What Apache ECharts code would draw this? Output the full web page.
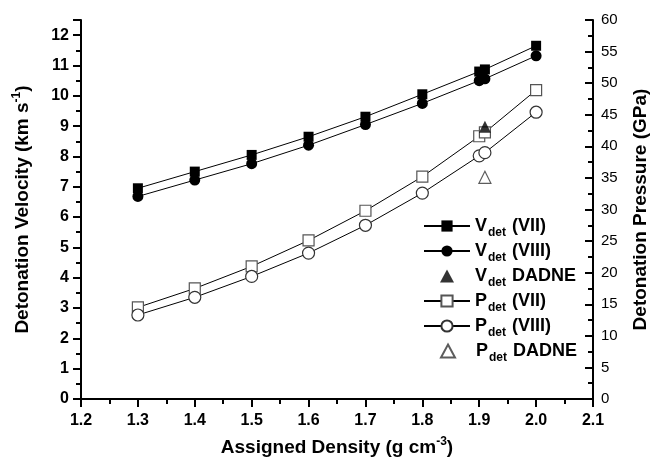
<!DOCTYPE html>
<html><head><meta charset="utf-8">
<script src="https://cdn.jsdelivr.net/npm/echarts@6/dist/echarts.min.js"></script>
<style>html,body{margin:0;padding:0;background:#fff}#c{width:654px;height:457px}</style>
</head><body><div id="c"></div>
<script>
var density = [1.3, 1.4, 1.5, 1.6, 1.7, 1.8, 1.9, 1.91, 2.0];
var vVII  = [6.95, 7.50, 8.05, 8.65, 9.31, 10.05, 10.80, 10.87, 11.65];
var vVIII = [6.68, 7.22, 7.76, 8.37, 9.05, 9.75, 10.50, 10.56, 11.32];
var pVII  = [14.5, 17.5, 21.0, 25.1, 29.8, 35.2, 41.6, 42.2, 48.9];
var pVIII = [13.3, 16.1, 19.4, 23.1, 27.5, 32.6, 38.5, 39.0, 45.4];
var dadneDensity = [1.91];
var vDADNE = [8.98];
var pDADNE = [35.1];
var legendNames = ['V (VII)', 'V (VIII)', 'V DADNE', 'P (VII)', 'P (VIII)', 'P DADNE'];

function pairs(xs, ys){ return xs.map(function(x,i){ return [x, ys[i]]; }); }
var FONT = 'Arial, "Liberation Sans", sans-serif';
var chart = echarts.init(document.getElementById('c'));
var lineStyle = {color:'#000', width:1};

var legendRich = {
  b:{fontFamily:FONT, fontSize:18, fontWeight:'bold', color:'#000'},
  bp:{fontFamily:FONT, fontSize:18, fontWeight:'bold', color:'#000', padding:[0,0,0,16]},
  s:{fontFamily:FONT, fontSize:12, fontWeight:'bold', color:'#000', padding:[13,1,0,1]}
};
function legendFor(i, isTri){
  var rowCenter = 225 + i*25;
  return {
    orient:'vertical', left: isTri ? 440 : 423, top: rowCenter - 8, padding:0,
    itemWidth: isTri ? 14 : 46, itemHeight: isTri ? 13 : 14, itemGap:0,
    data:[legendNames[i]],
    textStyle:{fontFamily:FONT, fontSize:18, fontWeight:'bold', color:'#000', rich:legendRich},
    formatter:function(n){
      var p = n.split(' ');
      return '{'+(isTri?'bp':'b')+'|'+p[0]+'}{s|det}{b| '+p.slice(1).join(' ')+'}';
    }
  };
}

chart.setOption({
  animation:false,
  grid:{left:81, right:61, top:20, bottom:58, containLabel:false, outerBoundsMode:'none'},
  legend:[legendFor(0,false), legendFor(1,false), legendFor(2,true),
          legendFor(3,false), legendFor(4,false), legendFor(5,true)],
  xAxis:{
    type:'value', min:1.2, max:2.1, interval:0.1,
    axisLine:{lineStyle:{color:'#000', width:2}},
    axisTick:{inside:false, length:8, lineStyle:{color:'#000', width:2}},
    minorTick:{show:true, splitNumber:2, length:5, lineStyle:{color:'#000', width:2}},
    splitLine:{show:false},
    axisLabel:{fontFamily:FONT, fontSize:16, fontWeight:'bold', color:'#000', margin:14,
      formatter:function(v){return v.toFixed(1);}},
    name:'Assigned Density (g cm{sup|-3})', nameLocation:'middle', nameGap:37,
    nameTextStyle:{fontFamily:FONT, fontSize:19, fontWeight:'bold', color:'#000',
      rich:{sup:{fontFamily:FONT, fontSize:12, fontWeight:'bold', color:'#000', padding:[0,0,12,0]}}}
  },
  yAxis:[{
    type:'value', min:0, max:12.5, interval:1, position:'left',
    axisLine:{show:true, lineStyle:{color:'#000', width:2}},
    axisTick:{inside:false, length:8, lineStyle:{color:'#000', width:2}},
    minorTick:{show:true, splitNumber:2, length:5, lineStyle:{color:'#000', width:2}},
    splitLine:{show:false},
    axisLabel:{fontFamily:FONT, fontSize:16, fontWeight:'bold', color:'#000', margin:12, showMaxLabel:false},
    name:'Detonation Velocity (km s{sup|-1})', nameLocation:'middle', nameGap:46,
    nameTextStyle:{fontFamily:FONT, fontSize:19, fontWeight:'bold', color:'#000',
      rich:{sup:{fontFamily:FONT, fontSize:12, fontWeight:'bold', color:'#000', padding:[0,0,12,0]}}}
  },{
    type:'value', min:0, max:60, interval:5, position:'right',
    axisLine:{show:true, lineStyle:{color:'#000', width:2}},
    axisTick:{inside:true, length:8, lineStyle:{color:'#000', width:2}},
    minorTick:{show:true, splitNumber:2, length:5, lineStyle:{color:'#000', width:2}},
    splitLine:{show:false},
    axisLabel:{fontFamily:FONT, fontSize:15, color:'#000', margin:8},
    name:'Detonation Pressure (GPa)', nameLocation:'middle', nameGap:38,
    nameTextStyle:{fontFamily:FONT, fontSize:19, fontWeight:'bold', color:'#000'}
  }],
  series:[
    {name:legendNames[0], type:'line', yAxisIndex:0, data:pairs(density, vVII), symbol:'rect', symbolSize:10,
     itemStyle:{color:'#000'}, lineStyle:lineStyle},
    {name:legendNames[1], type:'line', yAxisIndex:0, data:pairs(density, vVIII), symbol:'circle', symbolSize:11,
     itemStyle:{color:'#000'}, lineStyle:lineStyle},
    {name:legendNames[3], type:'line', yAxisIndex:1, data:pairs(density, pVII), symbol:'rect', symbolSize:11,
     itemStyle:{color:'#fff', borderColor:'#555', borderWidth:1.2}, lineStyle:lineStyle},
    {name:legendNames[4], type:'line', yAxisIndex:1, data:pairs(density, pVIII), symbol:'circle', symbolSize:12,
     itemStyle:{color:'#fff', borderColor:'#333', borderWidth:1.2}, lineStyle:lineStyle},
    {name:legendNames[2], type:'scatter', yAxisIndex:0, data:pairs(dadneDensity, vDADNE), symbol:'triangle', symbolSize:12,
     z:5, itemStyle:{color:'#000'}},
    {name:legendNames[5], type:'scatter', yAxisIndex:1, data:pairs(dadneDensity, pDADNE), symbol:'triangle', symbolSize:12,
     z:5, itemStyle:{color:'#fff', borderColor:'#333', borderWidth:1.2}}
  ]
});
</script></body></html>
